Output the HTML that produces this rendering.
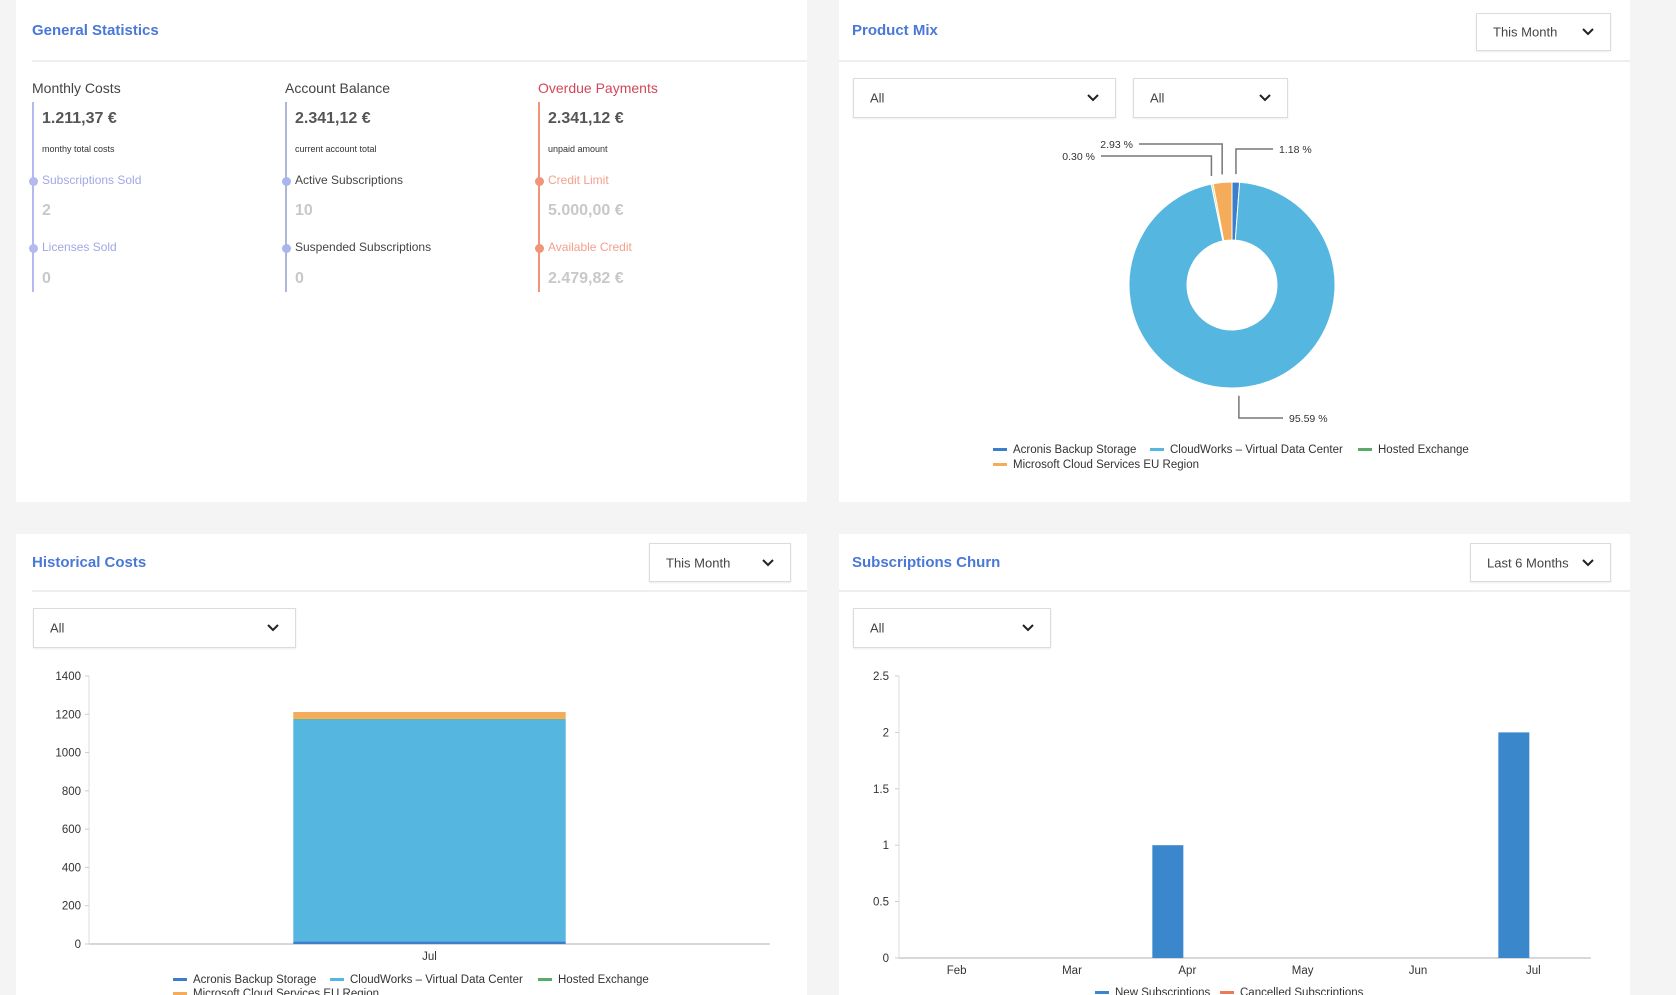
<!DOCTYPE html>
<html><head><meta charset="utf-8">
<style>
*{box-sizing:border-box;margin:0;padding:0}
body{width:1676px;height:995px;overflow:hidden;background:#f4f4f5;font-family:"Liberation Sans",sans-serif;position:relative}
.card{position:absolute;background:#fff}
.abs{position:absolute;white-space:nowrap}
.title{font-weight:bold;color:#4a78d8;font-size:15px}
.hr{position:absolute;height:2px;background:#eeeeee}
.dd{position:absolute;border:1px solid #dcdcdc;background:#fff;box-shadow:0 1px 2px rgba(0,0,0,0.08);font-size:13px;color:#444}
.dd span{position:absolute;left:16px;top:50%;transform:translateY(-50%)}
.dd svg{position:absolute;right:16px;top:50%;transform:translateY(-50%)}
.lab{font-size:14px;color:#444}
.val{font-size:16px;font-weight:bold;color:#555}
.small{font-size:9px;color:#333}
.vline{position:absolute;width:2px}
.dot{position:absolute;width:9px;height:9px;border-radius:50%}
svg text{font-family:"Liberation Sans",sans-serif}
</style></head><body>

<div class="card" style="left:16px;top:0;width:791px;height:502px">
  <div class="abs title" style="left:16px;top:22px">General Statistics</div>
</div>
<div class="hr" style="left:32px;top:60px;width:775px"></div>

<div class="abs lab" style="left:32px;top:80px">Monthly Costs</div>
<div class="vline" style="left:32px;top:102px;height:190px;background:#b4b9ee"></div>
<div class="abs val" style="left:42px;top:110px">1.211,37 €</div>
<div class="abs small" style="left:42px;top:144px">monthy total costs</div>
<div class="dot" style="left:29px;top:177px;background:#b4b9ee"></div>
<div class="abs lab" style="left:42px;top:173px;font-size:12px;color:#a1a8e6">Subscriptions Sold</div>
<div class="abs val" style="left:42px;top:202px;color:#c8c8c8">2</div>
<div class="dot" style="left:29px;top:244px;background:#b4b9ee"></div>
<div class="abs lab" style="left:42px;top:240px;font-size:12px;color:#a1a8e6">Licenses Sold</div>
<div class="abs val" style="left:42px;top:270px;color:#c8c8c8">0</div>

<div class="abs lab" style="left:285px;top:80px">Account Balance</div>
<div class="vline" style="left:285px;top:102px;height:190px;background:#b0b6d8"></div>
<div class="abs val" style="left:295px;top:110px">2.341,12 €</div>
<div class="abs small" style="left:295px;top:144px">current account total</div>
<div class="dot" style="left:282px;top:177px;background:#a9b6ec"></div>
<div class="abs lab" style="left:295px;top:173px;font-size:12px;color:#444">Active Subscriptions</div>
<div class="abs val" style="left:295px;top:202px;color:#c8c8c8">10</div>
<div class="dot" style="left:282px;top:244px;background:#a9b6ec"></div>
<div class="abs lab" style="left:295px;top:240px;font-size:12px;color:#444">Suspended Subscriptions</div>
<div class="abs val" style="left:295px;top:270px;color:#c8c8c8">0</div>

<div class="abs lab" style="left:538px;top:80px;color:#d0485a">Overdue Payments</div>
<div class="vline" style="left:538px;top:102px;height:190px;background:#f0947a"></div>
<div class="abs val" style="left:548px;top:110px">2.341,12 €</div>
<div class="abs small" style="left:548px;top:144px">unpaid amount</div>
<div class="dot" style="left:535px;top:177px;background:#f0947a"></div>
<div class="abs lab" style="left:548px;top:173px;font-size:12px;color:#f3a08c">Credit Limit</div>
<div class="abs val" style="left:548px;top:202px;color:#c8c8c8">5.000,00 €</div>
<div class="dot" style="left:535px;top:244px;background:#f0947a"></div>
<div class="abs lab" style="left:548px;top:240px;font-size:12px;color:#f3a08c">Available Credit</div>
<div class="abs val" style="left:548px;top:270px;color:#c8c8c8">2.479,82 €</div>

<div class="card" style="left:839px;top:0;width:791px;height:502px">
  <div class="abs title" style="left:13px;top:22px">Product Mix</div>
</div>
<div class="hr" style="left:839px;top:60px;width:791px"></div>
<div class="dd" style="left:1476px;top:13px;width:135px;height:38px"><span>This Month</span><svg width="12" height="8" viewBox="0 0 12 8"><path d="M1 1l5 5 5-5" stroke="#222" stroke-width="2" fill="none"/></svg></div>
<div class="dd" style="left:853px;top:78px;width:263px;height:40px"><span>All</span><svg width="12" height="8" viewBox="0 0 12 8"><path d="M1 1l5 5 5-5" stroke="#222" stroke-width="2" fill="none"/></svg></div>
<div class="dd" style="left:1133px;top:78px;width:155px;height:40px"><span>All</span><svg width="12" height="8" viewBox="0 0 12 8"><path d="M1 1l5 5 5-5" stroke="#222" stroke-width="2" fill="none"/></svg></div>
<svg id="pie" class="abs" style="left:839px;top:120px" width="791" height="380"></svg>

<div class="card" style="left:16px;top:534px;width:791px;height:461px">
  <div class="abs title" style="left:16px;top:20px">Historical Costs</div>
</div>
<div class="hr" style="left:32px;top:590px;width:775px"></div>
<div class="dd" style="left:649px;top:543px;width:142px;height:39px"><span>This Month</span><svg width="12" height="8" viewBox="0 0 12 8"><path d="M1 1l5 5 5-5" stroke="#222" stroke-width="2" fill="none"/></svg></div>
<div class="dd" style="left:33px;top:608px;width:263px;height:40px"><span>All</span><svg width="12" height="8" viewBox="0 0 12 8"><path d="M1 1l5 5 5-5" stroke="#222" stroke-width="2" fill="none"/></svg></div>
<svg id="hist" class="abs" style="left:0;top:650px" width="838" height="345"></svg>

<div class="card" style="left:839px;top:534px;width:791px;height:461px">
  <div class="abs title" style="left:13px;top:20px">Subscriptions Churn</div>
</div>
<div class="hr" style="left:839px;top:590px;width:791px"></div>
<div class="dd" style="left:1470px;top:543px;width:141px;height:39px"><span>Last 6 Months</span><svg width="12" height="8" viewBox="0 0 12 8"><path d="M1 1l5 5 5-5" stroke="#222" stroke-width="2" fill="none"/></svg></div>
<div class="dd" style="left:853px;top:608px;width:198px;height:40px"><span>All</span><svg width="12" height="8" viewBox="0 0 12 8"><path d="M1 1l5 5 5-5" stroke="#222" stroke-width="2" fill="none"/></svg></div>
<svg id="churn" class="abs" style="left:839px;top:650px" width="791" height="345"></svg>

<script>
const NS="http://www.w3.org/2000/svg";
function mk(p,t,a,txt){const e=document.createElementNS(NS,t);for(const k in a)e.setAttribute(k,a[k]);if(txt!==undefined)e.textContent=txt;p.appendChild(e);return e;}

const productNames=["Acronis Backup Storage","CloudWorks – Virtual Data Center","Hosted Exchange","Microsoft Cloud Services EU Region"];
const productColors=["#3a7fcb","#55b6e0","#f2d36b","#f4ac5a"];
const legendColors=["#3a7fcb","#55b6e0","#5aab6a","#f4ac5a"];
const pieValues=[1.18,95.59,0.30,2.93];
const pieLabels=["1.18 %","95.59 %","0.30 %","2.93 %"];
const histCategories=["Jul"];
const histAcronis=[14];
const histCloud=[1158];
const histHosted=[4];
const histMicrosoft=[36];
const histTicks=[0,200,400,600,800,1000,1200,1400];
const churnMonths=["Feb","Mar","Apr","May","Jun","Jul"];
const churnNew=[0,0,1,0,0,2];
const churnCancelled=[0,0,0,0,0,0];
const churnTicks=[0,0.5,1,1.5,2,2.5];
const churnTickLabels=["0","0.5","1","1.5","2","2.5"];

(function(){
 const s=document.getElementById('pie');
 const cx=393,cy=165,R=103,r=45;
 const tot=pieValues.reduce((a,b)=>a+b,0);
 let a0=0;
 const labelPos=[[440,33,"start"],[450,302,"start"],[256,40,"end"],[294,28,"end"]];
 pieValues.forEach((v,i)=>{
  const a1=a0+v/tot*Math.PI*2;
  const pt=(rad,a)=>[cx+rad*Math.sin(a),cy-rad*Math.cos(a)];
  const [x0,y0]=pt(R,a0),[x1,y1]=pt(R,a1),[x2,y2]=pt(r,a1),[x3,y3]=pt(r,a0);
  const lg=(a1-a0)>Math.PI?1:0;
  const p=mk(s,'path',{d:`M${x0} ${y0}A${R} ${R} 0 ${lg} 1 ${x1} ${y1}L${x2} ${y2}A${r} ${r} 0 ${lg} 0 ${x3} ${y3}Z`,fill:productColors[i],stroke:"#fff","stroke-width":1});
  
  
  const am=(a0+a1)/2;const [ex,ey]=pt(R+4,am);
  const [lx,ly,anc]=labelPos[i];
  mk(s,'path',{d:i===1?`M${ex} ${ey+4}V${ly-4}H${lx-6}`:`M${ex} ${ey-4}V${ly-4}H${anc==="start"?lx-6:lx+6}`,stroke:"#777",fill:"none","stroke-width":1.5});
  const t=mk(s,'text',{x:lx,y:ly,"font-size":10.5,fill:"#333","text-anchor":anc},pieLabels[i]);
  
  
  a0=a1;
 });
 [[154,0],[311,0],[519,0],[154,1]].forEach((q,i)=>{
  const lx=q[0],ly=333+q[1]*15;
  mk(s,'rect',{x:lx,y:ly-5,width:14,height:3,fill:legendColors[i]});
  const t=mk(s,'text',{x:lx+20,y:ly,"font-size":11.5,fill:"#333",textLength:0||undefined},productNames[i]);
  t.removeAttribute('textLength');
  
  
 });
})();

(function(){
 const s=document.getElementById('hist');
 const x0=89,x1=770,yTop=26,yBot=294,max=1400;
 const y=v=>yBot-(v/max)*(yBot-yTop);
 mk(s,'line',{x1:x0,y1:yTop,x2:x0,y2:yBot,stroke:"#ddd"});
 mk(s,'line',{x1:x0,y1:yBot,x2:x1,y2:yBot,stroke:"#ccc","stroke-width":1.5});
 histTicks.forEach(t=>{
  mk(s,'line',{x1:x0-4,y1:y(t),x2:x0,y2:y(t),stroke:"#ccc"});
  mk(s,'text',{x:x0-8,y:y(t)+4,"font-size":11.5,fill:"#333","text-anchor":"end"},String(t));
 });
 const bw=(x1-x0)/histCategories.length;
 histCategories.forEach((c,i)=>{
  const bx=x0+bw*i+bw*0.3, w=bw*0.4;
  let acc=0;
  [histAcronis,histCloud,histHosted,histMicrosoft].forEach((ser,k)=>{
   const v=ser[i];
   const r=mk(s,'rect',{x:bx,y:y(acc+v),width:w,height:y(acc)-y(acc+v),fill:["#3a7fcb","#55b6e0","#5aab6a","#f4ac5a"][k]});
   
   
   acc+=v;
  });
  mk(s,'text',{x:bx+w/2,y:yBot+16,"font-size":11.5,fill:"#333","text-anchor":"middle"},c);
 });
 [[173,333],[330,333],[538,333],[173,347]].forEach((q,i)=>{
  mk(s,'rect',{x:q[0],y:q[1]-5,width:14,height:3,fill:legendColors[i]});
  const t=mk(s,'text',{x:q[0]+20,y:q[1],"font-size":11.5,fill:"#333"},productNames[i]);
  
  
 });
})();

(function(){
 const s=document.getElementById('churn');
 const x0=60,x1=752,yTop=26,yBot=308,max=2.5;
 const y=v=>yBot-(v/max)*(yBot-yTop);
 mk(s,'line',{x1:x0,y1:yTop,x2:x0,y2:yBot,stroke:"#ddd"});
 mk(s,'line',{x1:x0,y1:yBot,x2:x1,y2:yBot,stroke:"#ccc","stroke-width":1.5});
 churnTicks.forEach((t,i)=>{
  mk(s,'line',{x1:x0-4,y1:y(t),x2:x0,y2:y(t),stroke:"#ccc"});
  mk(s,'text',{x:x0-10,y:y(t)+4,"font-size":11.5,fill:"#333","text-anchor":"end"},churnTickLabels[i]);
 });
 const step=(x1-x0)/churnMonths.length;
 churnMonths.forEach((m,i)=>{
  const cx=x0+step*(i+0.5);
  const w=31;
  const r=mk(s,'rect',{x:cx-w-4,y:y(churnNew[i]),width:w,height:yBot-y(churnNew[i]),fill:"#3b87cc"});
  
  
  const r2=mk(s,'rect',{x:cx+4,y:y(churnCancelled[i]),width:w,height:yBot-y(churnCancelled[i]),fill:"#f0785a"});
  
  
  mk(s,'text',{x:cx,y:yBot+16,"font-size":11.5,fill:"#333","text-anchor":"middle"},m);
 });
 [[256,346,"New Subscriptions","#3b87cc"],[381,346,"Cancelled Subscriptions","#f0785a"]].forEach(q=>{
  mk(s,'rect',{x:q[0],y:q[1]-5,width:14,height:3,fill:q[3]});
  const t=mk(s,'text',{x:q[0]+20,y:q[1],"font-size":11.5,fill:"#333"},q[2]);
  
  
 });
})();
</script>
</body></html>
